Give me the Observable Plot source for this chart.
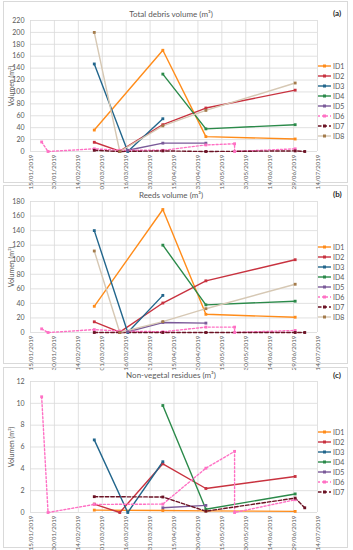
<!DOCTYPE html>
<html><head><meta charset="utf-8">
<script src="https://cdn.jsdelivr.net/npm/d3@7"></script>
<script src="https://cdn.jsdelivr.net/npm/@observablehq/plot@0.6"></script>
<style>
body{margin:0;background:#fff;font-family:Lato,"Open Sans",sans-serif;}
#root{position:relative;width:353px;height:550px;overflow:hidden;}
.panel{position:absolute;left:3px;width:345px;border:1px solid #d9d9d9;box-sizing:border-box;}
.title{position:absolute;font-size:8px;color:#595959;white-space:nowrap;transform:translate(-50%,-50%);}
.tag{position:absolute;font-size:8px;font-weight:bold;color:#262626;transform:translateY(-50%);}
.plot{position:absolute;left:0;}
.plot svg{overflow:visible;}
.legend{position:absolute;left:318px;font-size:7px;color:#595959;}
.legend .row{height:10px;line-height:10px;display:flex;align-items:center;}
.legend svg{margin-right:2px;}
</style></head><body><div id="root"></div><script>
const ids = ["ID1","ID2","ID3","ID4","ID5","ID6","ID7","ID8"];
const lineColors = ["#ff8c1a","#c8323f","#22668c","#2b8a4a","#7a5a99","#ff70c4","#6b1224","#d6c8b4"];
const markColors = ["#ff8c1a","#c8323f","#22668c","#2b8a4a","#7a5a99","#ff70c4","#6b1224","#a47c4c"];
const dashes = [null,null,null,null,null,"2,2","3.5,2",null];
const xTickLabels = ["2019-01-15","2019-01-30","2019-02-14","2019-03-01","2019-03-16","2019-03-31","2019-04-15","2019-04-30","2019-05-15","2019-05-30","2019-06-14","2019-06-29","2019-07-14"];

// Panel (a) Total debris volume
const debrisID1 = [["2019-02-24",36],["2019-04-08",170],["2019-05-05",25],["2019-06-30",21]];
const debrisID2 = [["2019-02-24",15.5],["2019-03-12",0.5],["2019-04-08",45],["2019-05-05",73],["2019-06-30",103]];
const debrisID3 = [["2019-02-24",147],["2019-03-17",0],["2019-04-08",55]];
const debrisID4 = [["2019-04-08",130],["2019-05-05",38],["2019-06-30",45]];
const debrisID5 = [["2019-03-17",2],["2019-04-08",14],["2019-05-05",14]];
const debrisID6 = [["2019-01-22",16],["2019-01-26",0],["2019-02-24",4.5],["2019-03-12",2],["2019-04-08",2],["2019-05-05",11],["2019-05-23",13],["2019-05-23",0],["2019-06-30",4.5]];
const debrisID7 = [["2019-02-24",2],["2019-03-12",0],["2019-04-08",1],["2019-05-05",0],["2019-06-30",1],["2019-07-06",0]];
const debrisID8 = [["2019-02-24",200],["2019-03-12",0],["2019-04-08",43],["2019-05-05",69],["2019-06-30",115]];
const debrisTicks = [0,20,40,60,80,100,120,140,160,180,200,220];

// Panel (b) Reeds volume
const reedsID1 = [["2019-02-24",36],["2019-04-08",169],["2019-05-05",25],["2019-06-30",21]];
const reedsID2 = [["2019-02-24",14.7],["2019-03-12",0.5],["2019-04-08",40.5],["2019-05-05",71],["2019-06-30",100]];
const reedsID3 = [["2019-02-24",140],["2019-03-17",0],["2019-04-08",51]];
const reedsID4 = [["2019-04-08",120],["2019-05-05",38],["2019-06-30",43]];
const reedsID5 = [["2019-03-17",1],["2019-04-08",13.8],["2019-05-05",12.9]];
const reedsID6 = [["2019-01-22",5],["2019-01-26",0],["2019-02-24",4],["2019-03-12",2],["2019-04-08",1],["2019-05-05",7.4],["2019-05-23",7.4],["2019-05-23",0],["2019-06-30",2.8]];
const reedsID7 = [["2019-02-24",0],["2019-03-12",0],["2019-04-08",0],["2019-05-05",0],["2019-06-30",0],["2019-07-06",0]];
const reedsID8 = [["2019-02-24",112],["2019-03-12",0],["2019-04-08",15],["2019-05-05",32.7],["2019-06-30",66.3]];
const reedsTicks = [0,20,40,60,80,100,120,140,160,180];

// Panel (c) Non-vegetal residues
const residID1 = [["2019-02-24",0.22],["2019-04-08",0.18],["2019-05-05",0.15],["2019-06-30",0.1]];
const residID2 = [["2019-02-24",0.77],["2019-03-12",0],["2019-04-08",4.46],["2019-05-05",2.2],["2019-06-30",3.3]];
const residID3 = [["2019-02-24",6.65],["2019-03-17",0],["2019-04-08",4.65]];
const residID4 = [["2019-04-08",9.8],["2019-05-05",0.3],["2019-06-30",1.7]];
const residID5 = [["2019-04-08",0.43],["2019-05-05",0.65]];
const residID6 = [["2019-01-22",10.6],["2019-01-26",0],["2019-02-24",0.74],["2019-04-08",0.77],["2019-05-05",4.06],["2019-05-23",5.6],["2019-05-23",0],["2019-06-30",1.17]];
const residID7 = [["2019-02-24",1.45],["2019-04-08",1.42],["2019-05-05",0.12],["2019-06-30",1.32],["2019-07-06",0.43]];
const residTicks = [0,2,4,6,8,10,12];

const panels = [
  {title:"Total debris volume (m³)", tag:"(a)", series:[debrisID1,debrisID2,debrisID3,debrisID4,debrisID5,debrisID6,debrisID7,debrisID8], yTicks:debrisTicks,
   box:[1,182], svgTop:2, mt:18, h:181, titleY:14, tagY:13, legendTop:61},
  {title:"Reeds volume (m³)", tag:"(b)", series:[reedsID1,reedsID2,reedsID3,reedsID4,reedsID5,reedsID6,reedsID7,reedsID8], yTicks:reedsTicks,
   box:[185,179], svgTop:186, mt:15, h:177, titleY:195, tagY:194, legendTop:242},
  {title:"Non-vegetal residues (m³)", tag:"(c)", series:[residID1,residID2,residID3,residID4,residID5,residID6,residID7], yTicks:residTicks,
   box:[367,181], svgTop:368, mt:13, h:175, titleY:375, tagY:375, legendTop:427}
];

const root = document.getElementById("root");
const xTicks = xTickLabels.map(s => new Date(s));
const fmt = d3.utcFormat("%d/%m/%Y");

for (const p of panels) {
  const box = document.createElement("div");
  box.className = "panel";
  box.style.top = p.box[0] + "px";
  box.style.height = p.box[1] + "px";
  root.appendChild(box);

  const rows = p.series.map((s, i) => s.map(([d, v]) => ({id: ids[i], date: new Date(d), value: v})));
  const lineMarks = rows.map((r, i) => Plot.line(r, {x: "date", y: "value", stroke: lineColors[i], strokeWidth: 1.4, strokeDasharray: dashes[i] ?? undefined}));
  const dotMarks = rows.map((r, i) => Plot.dot(r, {x: "date", y: "value", fill: markColors[i], symbol: "square", r: 1.6}));

  const chart = Plot.plot({
    width: 353, height: p.h,
    marginTop: p.mt, marginBottom: p.h - p.mt - 131, marginLeft: 30, marginRight: 36,
    style: {fontFamily: "Lato, 'Open Sans', sans-serif", color: "#595959", background: "transparent"},
    x: {type: "utc", domain: [new Date("2019-01-15"), new Date("2019-07-14")]},
    y: {domain: [0, p.yTicks[p.yTicks.length - 1]]},
    marks: [
      Plot.gridX({ticks: xTicks, stroke: "#d9d9d9", strokeOpacity: 1, strokeWidth: 0.8}),
      Plot.gridY({ticks: p.yTicks, stroke: "#d9d9d9", strokeOpacity: 1, strokeWidth: 0.8}),
      Plot.axisX({ticks: xTicks, tickFormat: fmt, tickRotate: -90, tickSize: 0, tickPadding: 3, fontSize: 6.3, fill: "#595959", label: null}),
      Plot.axisY({ticks: p.yTicks, tickSize: 0, tickPadding: 6, fontSize: 7, fill: "#595959",
        label: "Volumen (m³)", labelAnchor: "center", labelArrow: "none", labelOffset: 21}),
      ...lineMarks,
      ...dotMarks
    ]
  });
  const holder = document.createElement("div");
  holder.className = "plot";
  holder.style.top = p.svgTop + "px";
  holder.appendChild(chart);
  root.appendChild(holder);

  const t = document.createElement("div");
  t.className = "title"; t.textContent = p.title;
  t.style.left = "171px"; t.style.top = p.titleY + "px";
  root.appendChild(t);
  const g = document.createElement("div");
  g.className = "tag"; g.textContent = p.tag;
  g.style.left = "333px"; g.style.top = p.tagY + "px";
  root.appendChild(g);

  const leg = document.createElement("div");
  leg.className = "legend";
  leg.style.top = p.legendTop + "px";
  p.series.forEach((s, i) => {
    const row = document.createElement("div");
    row.className = "row";
    const dash = dashes[i] ? `stroke-dasharray="${dashes[i]}"` : "";
    row.innerHTML = `<svg width="13" height="6"><line x1="0" x2="13" y1="3" y2="3" stroke="${lineColors[i]}" stroke-width="1.4" ${dash}/><rect x="5" y="1.5" width="3" height="3" fill="${markColors[i]}"/></svg><span>${ids[i]}</span>`;
    leg.appendChild(row);
  });
  root.appendChild(leg);
}
</script></body></html>
